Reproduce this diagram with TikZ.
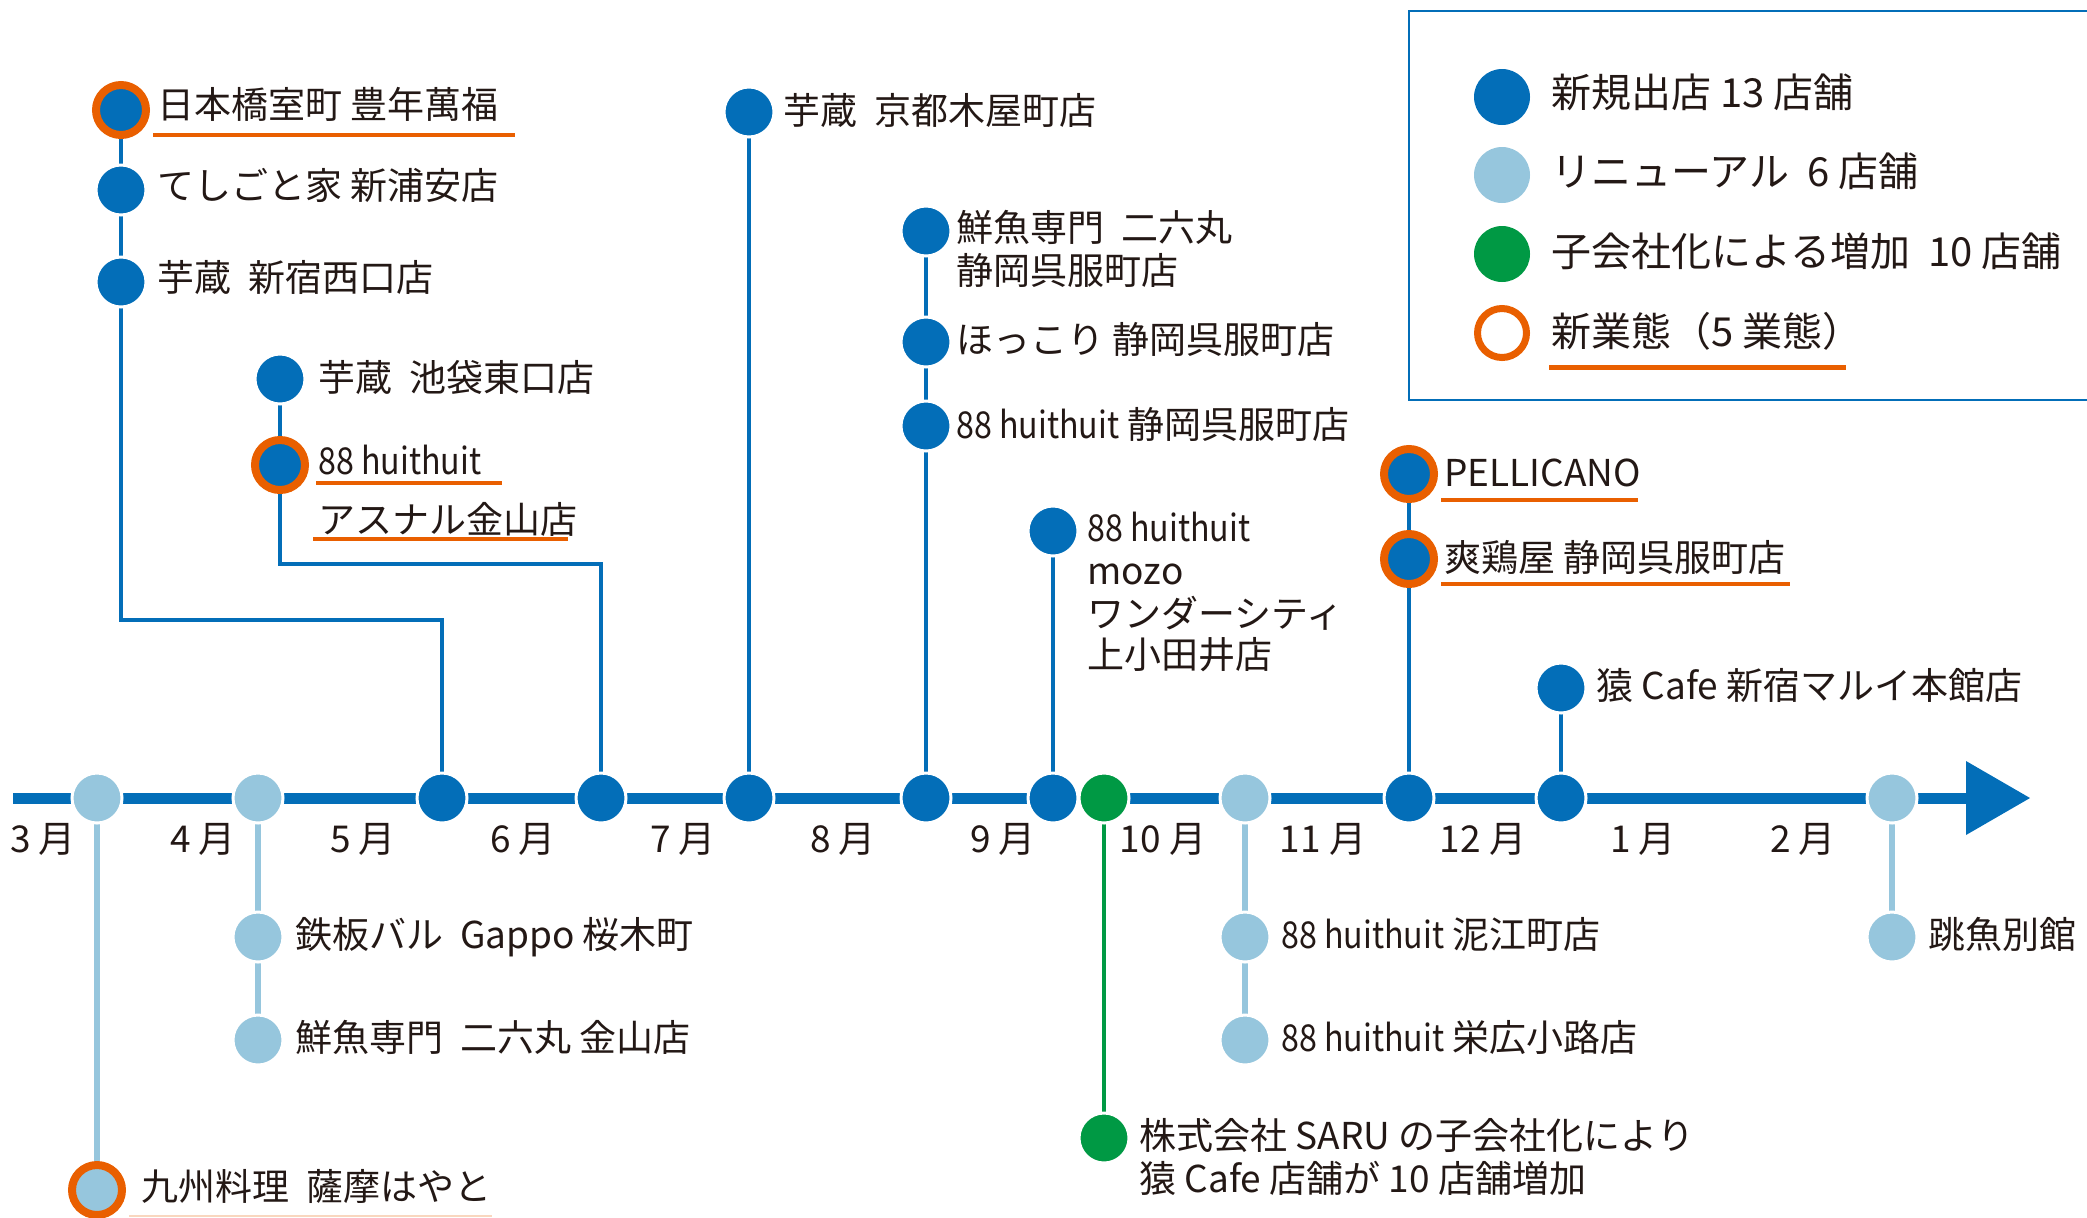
\documentclass[tikz,border=0pt]{standalone}
\usepackage{fontspec}
\setmainfont{Noto Sans CJK JP}
\newfontfamily\lat{Noto Sans CJK JP}[FakeStretch=0.87]
\usetikzlibrary{backgrounds}
\definecolor{cblue}{HTML}{036EB8}
\definecolor{clight}{HTML}{96C6DD}
\definecolor{cgreen}{HTML}{009944}
\definecolor{corange}{HTML}{E95F00}
\definecolor{ctext}{HTML}{231815}
\newcommand{\wsp}{\hspace{0.45em}}
\newcommand{\hh}{{\lat 88 huithuit}}
\begin{document}
\begin{tikzpicture}[x=0.5pt,y=-0.5pt,
 dotb/.style={circle,fill=cblue,draw=white,line width=1.5pt,minimum size=25pt,inner sep=0pt},
 dotl/.style={dotb,fill=clight},
 dotg/.style={dotb,fill=cgreen},
 ringb/.style={circle,fill=cblue,draw=corange,line width=4pt,minimum size=25pt,inner sep=0pt},
 ringl/.style={ringb,fill=clight},
 lbl/.style={anchor=west,inner sep=0pt,text=ctext,font=\fontsize{18.5pt}{22pt}\selectfont,text height=1.24em,text depth=.06em},
 legl/.style={lbl,font=\fontsize{20pt}{24pt}\selectfont},
 mon/.style={lbl,anchor=center},
 bl/.style={cblue,line width=2.25pt},
 ll/.style={clight,line width=2.6pt},
 gl/.style={cgreen,line width=2.25pt},
 ul/.style={corange,line width=2pt},
]
\useasboundingbox (0,0) rectangle (2087,1217);

% ---------- timeline dots ----------
\node[dotl] (t1) at (97,798) {};
\node[dotl] (t2) at (258,798) {};
\node[dotb] (t3) at (442,798) {};
\node[dotb] (t4) at (601,798) {};
\node[dotb] (t5) at (749,798) {};
\node[dotb] (t6) at (926,798) {};
\node[dotb] (t7) at (1053,798) {};
\node[dotg] (t8) at (1104,798) {};
\node[dotl] (t9) at (1245,798) {};
\node[dotb] (t10) at (1409,798) {};
\node[dotb] (t11) at (1561,798) {};
\node[dotl] (t12) at (1892,798) {};
\coordinate (tstart) at (13,798);
\coordinate (tend) at (1968,798);
\coordinate (atop) at (1966,761);
\coordinate (atip) at (2030,798);
\coordinate (abot) at (1966,835);

% ---------- months ----------
\foreach \m [count=\i from 0] in {3,4,5,6,7,8,9,10,11,12,1,2}
  \node[mon] (m\m) at (43+160*\i,841) {\m\ 月};

% ---------- upper branches ----------
\node[ringb] (a1) at (121,110) {};
\node[dotb] (a2) at (121,190) {};
\node[dotb] (a3) at (121,282) {};
\node[lbl] (a1t) at (157,107) {日本橋室町 豊年萬福};
\node[lbl] (a2t) at (157,188) {てしごと家 新浦安店};
\node[lbl] (a3t) at (157,280) {芋蔵\wsp 新宿西口店};
\coordinate (cA) at (121,620);

\node[dotb] (b1) at (280,379) {};
\node[ringb] (b2) at (280,465) {};
\node[lbl] (b1t) at (318,380) {芋蔵\wsp 池袋東口店};
\node[lbl] (b2t) at (318,463) {\hh};
\node[lbl] (b2u) at (318,522) {アスナル金山店};
\coordinate (cB) at (280,564);

\node[dotb] (c1) at (749,112) {};
\node[lbl] (c1t) at (783,113) {芋蔵\wsp 京都木屋町店};

\node[dotb] (d1) at (926,231) {};
\node[dotb] (d2) at (926,342) {};
\node[dotb] (d3) at (926,426) {};
\node[lbl] (d1t) at (956,230) {鮮魚専門\wsp 二六丸};
\node[lbl] (d1u) at (956,273) {静岡呉服町店};
\node[lbl] (d2t) at (956,342) {ほっこり 静岡呉服町店};
\node[lbl] (d3t) at (956,427) {\hh\ 静岡呉服町店};

\node[dotb] (e1) at (1053,531) {};
\node[lbl] (e1a) at (1087,530) {\hh};
\node[lbl] (e1b) at (1087,573) {mozo};
\node[lbl] (e1c) at (1087,616) {ワンダーシティ};
\node[lbl] (e1d) at (1087,657) {上小田井店};

\node[ringb] (f1) at (1409,474) {};
\node[ringb] (f2) at (1409,559) {};
\node[lbl] (f1t) at (1444,475) {PELLICANO};
\node[lbl] (f2t) at (1444,560) {爽鶏屋 静岡呉服町店};

\node[dotb] (g1) at (1561,688) {};
\node[lbl] (g1t) at (1596,688) {猿 Cafe 新宿マルイ本館店};

% ---------- lower branches ----------
\node[ringl] (h1) at (97,1190) {};
\node[lbl] (h1t) at (141,1189) {九州料理\wsp 薩摩はやと};

\node[dotl] (i1) at (258,937) {};
\node[dotl] (i2) at (258,1040) {};
\node[lbl] (i1t) at (295,937) {鉄板バル\wsp Gappo 桜木町};
\node[lbl] (i2t) at (295,1040) {鮮魚専門\wsp 二六丸 金山店};

\node[dotg] (j1) at (1104,1138) {};
\node[lbl] (j1t) at (1139,1138) {株式会社 SARU の子会社化により};
\node[lbl] (j1u) at (1139,1181) {猿 Cafe 店舗が 10 店舗増加};

\node[dotl] (k1) at (1245,937) {};
\node[dotl] (k2) at (1245,1040) {};
\node[lbl] (k1t) at (1281,937) {\hh\ 泥江町店};
\node[lbl] (k2t) at (1281,1040) {\hh\ 栄広小路店};

\node[dotl] (l1) at (1892,937) {};
\node[lbl] (l1t) at (1928,937) {跳魚別館};

% ---------- underlines ----------
\draw[ul] (153,135) -- (515,135);
\draw[ul] (316,483) -- (502,483);
\draw[ul] (313,539) -- (568,539);
\draw[ul] (1441,500) -- (1638,500);
\draw[ul] (1441,584) -- (1790,584);
\draw[corange!25,line width=1pt] (129,1216) -- (492,1216);

% ---------- legend ----------
\draw[cblue,line width=1.3pt] (1409,11) rectangle (2120,400);
\node[circle,fill=cblue,minimum size=28pt,inner sep=0pt] (L1) at (1502,97) {};
\node[circle,fill=clight,minimum size=28pt,inner sep=0pt] (L2) at (1502,175) {};
\node[circle,fill=cgreen,minimum size=28pt,inner sep=0pt] (L3) at (1502,254) {};
\node[circle,fill=white,draw=corange,line width=3.5pt,minimum size=24.5pt,inner sep=0pt] (L4) at (1502,333) {};
\node[legl] (L1t) at (1551,96) {新規出店 13 店舗};
\node[legl] (L2t) at (1551,175) {リニューアル\wsp 6 店舗};
\node[legl] (L3t) at (1551,255) {子会社化による増加\wsp 10 店舗};
\node[legl] (L4t) at (1551,335) {新業態（5 業態）};
\draw[corange,line width=2.5pt] (1549,367) -- (1846,367);

% ---------- connectors ----------
\begin{pgfonlayer}{background}
\draw[cblue,line width=5.5pt] (tstart) -- (tend);
\fill[cblue] (atop) -- (atip) -- (abot) -- cycle;
\draw[bl] (a1.center) -- (cA) -| (t3.center);
\draw[bl] (b1.center) -- (cB) -| (t4.center);
\draw[bl] (c1.center) -- (t5.center);
\draw[bl] (d1.center) -- (t6.center);
\draw[bl] (e1.center) -- (t7.center);
\draw[bl] (f1.center) -- (t10.center);
\draw[bl] (g1.center) -- (t11.center);
\draw[ll] (t1.center) -- (h1.center);
\draw[ll] (t2.center) -- (i2.center);
\draw[gl] (t8.center) -- (j1.center);
\draw[ll] (t9.center) -- (k2.center);
\draw[ll] (t12.center) -- (l1.center);
\end{pgfonlayer}
\end{tikzpicture}
\end{document}
